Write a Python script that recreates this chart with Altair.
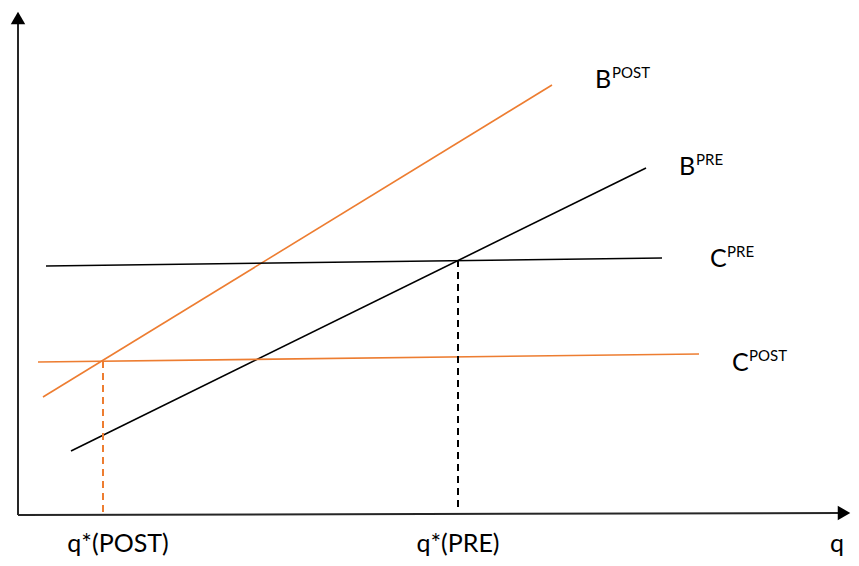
import altair as alt
import pandas as pd

ORANGE = "#ED7D31"
BLACK = "#000000"

# Curves (diagram units; y grows downward)
curve_names = ["B_POST", "B_PRE", "C_PRE", "C_POST"]
curve_x0 = [35, 63, 38, 30]
curve_y0 = [389, 443, 258, 354]
curve_x1 = [544, 638, 654, 691]
curve_y1 = [77, 160, 250, 346]
curve_colors = [ORANGE, BLACK, BLACK, ORANGE]

# Equilibrium drop lines
eq_x = [95, 450]
eq_y = [353, 252]
eq_floor = [504, 504]
eq_colors = [ORANGE, BLACK]

# Axes
axis_x0 = [10, 10]
axis_y0 = [507, 507]
axis_x1 = [10, 832]
axis_y1 = [16, 505]
arrow_x = [10, 836]
arrow_y = [10, 505]
arrow_shapes = ["triangle-up", "triangle-right"]

# Curve labels (base letter + superscript)
lab_base = ["B", "B", "C", "C"]
lab_sup = ["POST", "PRE", "PRE", "POST"]
lab_x = [587, 671, 702, 724]
lab_y = [80, 167, 259, 363]

# Axis labels
bottom_text = ["q*(POST)", "q*(PRE)", "q"]
bottom_x = [110, 450, 829]
bottom_y = [544, 544, 544]

W, H = 843, 550
xs = alt.Scale(domain=[0, W], nice=False, zero=False)
ys = alt.Scale(domain=[0, H], nice=False, zero=False, reverse=True)

curves = pd.DataFrame(dict(name=curve_names, x=curve_x0, y=curve_y0,
                           x2=curve_x1, y2=curve_y1, c=curve_colors))
eqs = pd.DataFrame(dict(x=eq_x, y=eq_y, y2=eq_floor, c=eq_colors))
axes = pd.DataFrame(dict(x=axis_x0, y=axis_y0, x2=axis_x1, y2=axis_y1))
arrows = pd.DataFrame(dict(x=arrow_x, y=arrow_y, s=arrow_shapes))
labels = pd.DataFrame(dict(b=lab_base, s=lab_sup, x=lab_x, y=lab_y))
bottom = pd.DataFrame(dict(t=bottom_text, x=bottom_x, y=bottom_y))

X = lambda f="x": alt.X(f"{f}:Q", scale=xs, axis=None)
Y = lambda f="y": alt.Y(f"{f}:Q", scale=ys, axis=None)

axis_layer = alt.Chart(axes).mark_rule(color="#262626", strokeWidth=2).encode(
    x=X(), y=Y(), x2="x2:Q", y2="y2:Q")
arrow_layer = alt.Chart(arrows).mark_point(filled=True, color="#000000", size=210, opacity=1).encode(
    x=X(), y=Y(), shape=alt.Shape("s:N", scale=None))
curve_layer = alt.Chart(curves).mark_rule(strokeWidth=1.6).encode(
    x=X(), y=Y(), x2="x2:Q", y2="y2:Q", color=alt.Color("c:N", scale=None))
eq_layer = alt.Chart(eqs).mark_rule(strokeWidth=2, strokeDash=[7, 5]).encode(
    x=X(), y=Y(), y2="y2:Q", color=alt.Color("c:N", scale=None))
base_text = alt.Chart(labels).mark_text(font="Lato", fontSize=25, align="left",
                                        baseline="alphabetic", color="#000000").encode(
    x=X(), y=Y(), text="b:N")
sup_text = alt.Chart(labels).mark_text(font="Lato", fontSize=15, align="left",
                                       baseline="alphabetic", dx=17, dy=-10,
                                       color="#000000").encode(
    x=X(), y=Y(), text="s:N")
bottom_layer = alt.Chart(bottom).mark_text(font="Lato", fontSize=25, align="center",
                                           baseline="alphabetic", color="#000000").encode(
    x=X(), y=Y(), text="t:N")

chart = alt.layer(axis_layer, curve_layer, eq_layer, arrow_layer,
                  base_text, sup_text, bottom_layer).properties(
    width=W, height=H, padding=0, background="white",
    autosize=alt.AutoSizeParams(type="none"),
).configure_view(stroke=None)

chart.save("out.html", embed_options={"renderer": "svg", "actions": False})
